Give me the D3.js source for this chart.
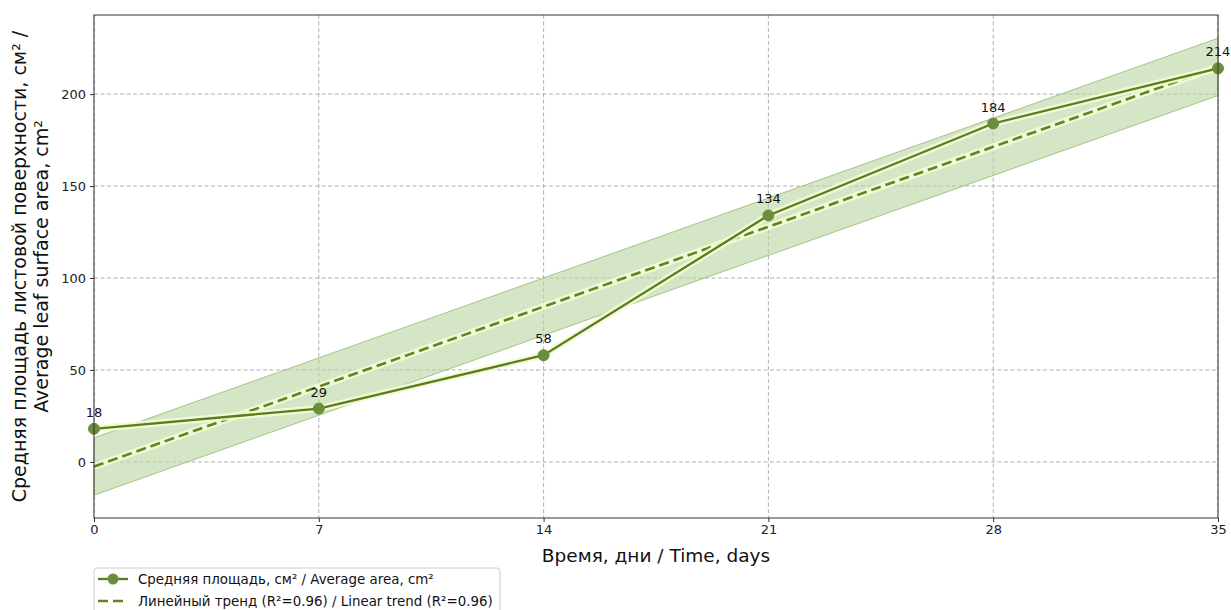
<!DOCTYPE html>
<html>
<head>
<meta charset="utf-8">
<script src="https://cdn.jsdelivr.net/npm/d3@7"></script>
<style>
  body { margin: 0; background: #fff; }
  svg { font-family: "DejaVu Sans", sans-serif; }
</style>
</head>
<body>
<div id="chart"></div>
<script>
// data
var days = [0, 7, 14, 21, 28, 35];
var area = [18, 29, 58, 134, 184, 214];
var trendDays = [0, 35];
var trendValues = [-2.5, 214.8];
var bandLower = [-18.1, 199.2];
var bandUpper = [13.1, 230.4];
var xTicks = [0, 7, 14, 21, 28, 35];
var yTicks = [0, 50, 100, 150, 200];

var W = 1231, H = 610;
var plotL = 94, plotR = 1218, plotT = 15, plotB = 518;

var svg = d3.select("#chart").append("svg")
    .attr("width", W).attr("height", H);

var x = d3.scaleLinear().domain([0, 35]).range([plotL, plotR]);
var y = d3.scaleLinear().domain([-30.5, 243]).range([plotB, plotT]);

// grid
svg.append("g").selectAll("line").data(xTicks).enter().append("line")
    .attr("x1", d => x(d)).attr("x2", d => x(d))
    .attr("y1", plotT).attr("y2", plotB)
    .attr("stroke", "#b0b0b0").attr("stroke-dasharray", "4,2.5").attr("stroke-width", 1);
svg.append("g").selectAll("line").data(yTicks).enter().append("line")
    .attr("x1", plotL).attr("x2", plotR)
    .attr("y1", d => y(d)).attr("y2", d => y(d))
    .attr("stroke", "#b0b0b0").attr("stroke-dasharray", "4,2.5").attr("stroke-width", 1);

// band
var band = trendDays.map((d, i) => ({ x: d, lo: bandLower[i], hi: bandUpper[i] }));
svg.append("path")
    .datum(band)
    .attr("d", d3.area().x(d => x(d.x)).y0(d => y(d.lo)).y1(d => y(d.hi)))
    .attr("fill", "#b8d69e").attr("fill-opacity", 0.6)
    .attr("stroke", "#95b872").attr("stroke-width", 0.8);

var line = d3.line().x(d => x(d[0])).y(d => y(d[1]));
var trend = trendDays.map((d, i) => [d, trendValues[i]]);
var pts = days.map((d, i) => [d, area[i]]);

// trend with glow
svg.append("path").datum(trend).attr("d", line)
    .attr("fill", "none").attr("stroke", "#f4fbd6").attr("stroke-width", 7).attr("stroke-opacity", 0.9);
svg.append("path").datum(trend).attr("d", line)
    .attr("fill", "none").attr("stroke", "#5f8424").attr("stroke-width", 2.6)
    .attr("stroke-dasharray", "10,5");

// main line with glow
svg.append("path").datum(pts).attr("d", line)
    .attr("fill", "none").attr("stroke", "#f4fbd6").attr("stroke-width", 7).attr("stroke-opacity", 0.9);
svg.append("path").datum(pts).attr("d", line)
    .attr("fill", "none").attr("stroke", "#5a7d1e").attr("stroke-width", 2.3);

svg.append("g").selectAll("circle").data(pts).enter().append("circle")
    .attr("cx", d => x(d[0])).attr("cy", d => y(d[1])).attr("r", 5.5)
    .attr("fill", "#6b8e3d").attr("stroke", "#6b8e3d").attr("stroke-width", 1);

svg.append("g").selectAll("text").data(pts).enter().append("text")
    .attr("x", d => x(d[0])).attr("y", d => y(d[1]) - 12)
    .attr("text-anchor", "middle").attr("font-size", 13).attr("fill", "#111")
    .text(d => d[1]);

// frame
svg.append("rect").attr("x", plotL).attr("y", plotT)
    .attr("width", plotR - plotL).attr("height", plotB - plotT)
    .attr("fill", "none").attr("stroke", "#333").attr("stroke-width", 1);

// axes
var xAxis = svg.append("g").attr("transform", "translate(0," + plotB + ")")
    .call(d3.axisBottom(x).tickValues(xTicks).tickSize(4).tickPadding(3));
var yAxis = svg.append("g").attr("transform", "translate(" + plotL + ",0)")
    .call(d3.axisLeft(y).tickValues(yTicks).tickSize(4).tickPadding(4));
[xAxis, yAxis].forEach(g => {
    g.select(".domain").remove();
    g.selectAll("line").attr("stroke", "#333");
    g.selectAll("text").attr("font-size", 13).attr("fill", "#222")
        .attr("font-family", "DejaVu Sans, sans-serif");
});

// axis titles
svg.append("text").attr("x", (plotL + plotR) / 2).attr("y", 562)
    .attr("text-anchor", "middle").attr("font-size", 18.5).attr("fill", "#111")
    .text("Время, дни / Time, days");
var yl = svg.append("text").attr("transform", "translate(26," + (plotT + plotB) / 2 + ") rotate(-90)")
    .attr("text-anchor", "middle").attr("font-size", 19).attr("fill", "#111");
yl.append("tspan").attr("x", 0).attr("dy", 0).text("Средняя площадь листовой поверхности, см² /");
yl.append("tspan").attr("x", 0).attr("dy", 22).text("Average leaf surface area, cm²");

// legend
var lg = svg.append("g").attr("transform", "translate(94,568)");
lg.append("rect").attr("x", 0).attr("y", 0).attr("width", 406).attr("height", 50).attr("rx", 3)
    .attr("fill", "#fff").attr("stroke", "#ccc");
lg.append("line").attr("x1", 4).attr("x2", 34).attr("y1", 11).attr("y2", 11)
    .attr("stroke", "#5a7d1e").attr("stroke-width", 2.3);
lg.append("circle").attr("cx", 19).attr("cy", 11).attr("r", 5.5).attr("fill", "#6b8e3d");
lg.append("line").attr("x1", 4).attr("x2", 34).attr("y1", 33).attr("y2", 33)
    .attr("stroke", "#5f8424").attr("stroke-width", 2.6).attr("stroke-dasharray", "10,5");
lg.append("text").attr("x", 44).attr("y", 16).attr("font-size", 13.4).attr("fill", "#111")
    .text("Средняя площадь, см² / Average area, cm²");
lg.append("text").attr("x", 44).attr("y", 38).attr("font-size", 13.4).attr("fill", "#111")
    .text("Линейный тренд (R²=0.96) / Linear trend (R²=0.96)");
</script>
</body>
</html>
